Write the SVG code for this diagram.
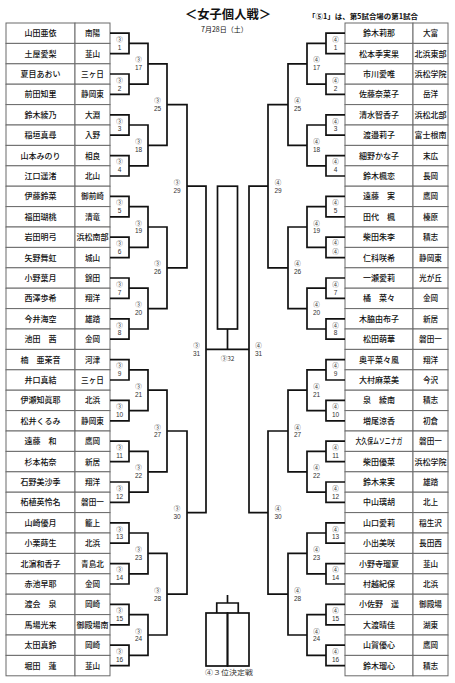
<svg xmlns="http://www.w3.org/2000/svg" width="455" height="683" viewBox="0 0 455 683">
<style>
.cell{fill:#fff;stroke:#6a6a6a;stroke-width:1}
.nm{font-family:"Noto Sans CJK JP","Noto Sans",sans-serif;font-size:8px;font-weight:500;fill:#111;text-anchor:middle}
.sc{font-family:"Noto Sans CJK JP","Noto Sans",sans-serif;font-size:7.6px;font-weight:500;fill:#111;text-anchor:middle}
.br{fill:none;stroke:#111;stroke-width:1.7}
.lb{font-family:"Noto Sans CJK JP","Noto Sans",sans-serif;font-size:6.5px;fill:#333;text-anchor:middle}
.n{font-family:"Liberation Sans","Noto Sans",sans-serif}
.hd{font-family:"Noto Sans CJK JP","Noto Sans",sans-serif;fill:#111}
</style>
<rect width="455" height="683" fill="#fff"/>
<g id="header">
<text class="hd" x="228" y="19" font-size="12.5" font-weight="bold" text-anchor="middle" textLength="86" lengthAdjust="spacingAndGlyphs">＜女子個人戦＞</text>
<text class="hd" x="201" y="32" font-size="7">7月28日（土）</text>
<text class="hd" x="308" y="19" font-size="7.4" font-weight="bold" textLength="110" lengthAdjust="spacingAndGlyphs">「⑤1」は、第5試合場の第1試合</text>
</g>
<g id="left-players">
<g id="L01"><rect class="cell" x="6" y="23" width="69" height="20.4"/><rect class="cell" x="75" y="23" width="35" height="20.4"/><text class="nm" x="40.5" y="36.2">山田亜依</text><text class="sc" x="92.5" y="36.2">南陽</text></g>
<g id="L02"><rect class="cell" x="6" y="43.4" width="69" height="20.4"/><rect class="cell" x="75" y="43.4" width="35" height="20.4"/><text class="nm" x="40.5" y="56.6">土屋愛梨</text><text class="sc" x="92.5" y="56.6">韮山</text></g>
<g id="L03"><rect class="cell" x="6" y="63.8" width="69" height="20.4"/><rect class="cell" x="75" y="63.8" width="35" height="20.4"/><text class="nm" x="40.5" y="77">夏目あおい</text><text class="sc" x="92.5" y="77">三ヶ日</text></g>
<g id="L04"><rect class="cell" x="6" y="84.2" width="69" height="20.4"/><rect class="cell" x="75" y="84.2" width="35" height="20.4"/><text class="nm" x="40.5" y="97.4">前田知里</text><text class="sc" x="92.5" y="97.4">静岡東</text></g>
<g id="L05"><rect class="cell" x="6" y="104.6" width="69" height="20.4"/><rect class="cell" x="75" y="104.6" width="35" height="20.4"/><text class="nm" x="40.5" y="117.8">鈴木綾乃</text><text class="sc" x="92.5" y="117.8">大淵</text></g>
<g id="L06"><rect class="cell" x="6" y="125" width="69" height="20.4"/><rect class="cell" x="75" y="125" width="35" height="20.4"/><text class="nm" x="40.5" y="138.2">稲垣真尋</text><text class="sc" x="92.5" y="138.2">入野</text></g>
<g id="L07"><rect class="cell" x="6" y="145.4" width="69" height="20.4"/><rect class="cell" x="75" y="145.4" width="35" height="20.4"/><text class="nm" x="40.5" y="158.6">山本みのり</text><text class="sc" x="92.5" y="158.6">相良</text></g>
<g id="L08"><rect class="cell" x="6" y="165.8" width="69" height="20.4"/><rect class="cell" x="75" y="165.8" width="35" height="20.4"/><text class="nm" x="40.5" y="179">江口遥渚</text><text class="sc" x="92.5" y="179">北山</text></g>
<g id="L09"><rect class="cell" x="6" y="186.2" width="69" height="20.4"/><rect class="cell" x="75" y="186.2" width="35" height="20.4"/><text class="nm" x="40.5" y="199.4">伊藤鈴菜</text><text class="sc" x="92.5" y="199.4">御前崎</text></g>
<g id="L10"><rect class="cell" x="6" y="206.6" width="69" height="20.4"/><rect class="cell" x="75" y="206.6" width="35" height="20.4"/><text class="nm" x="40.5" y="219.8">福田瑚桃</text><text class="sc" x="92.5" y="219.8">清竜</text></g>
<g id="L11"><rect class="cell" x="6" y="227" width="69" height="20.4"/><rect class="cell" x="75" y="227" width="35" height="20.4"/><text class="nm" x="40.5" y="240.2">岩田明弓</text><text class="sc" x="92.5" y="240.2" textLength="32" lengthAdjust="spacingAndGlyphs">浜松南部</text></g>
<g id="L12"><rect class="cell" x="6" y="247.4" width="69" height="20.4"/><rect class="cell" x="75" y="247.4" width="35" height="20.4"/><text class="nm" x="40.5" y="260.6">矢野舞虹</text><text class="sc" x="92.5" y="260.6">城山</text></g>
<g id="L13"><rect class="cell" x="6" y="267.8" width="69" height="20.4"/><rect class="cell" x="75" y="267.8" width="35" height="20.4"/><text class="nm" x="40.5" y="281">小野葉月</text><text class="sc" x="92.5" y="281">錦田</text></g>
<g id="L14"><rect class="cell" x="6" y="288.2" width="69" height="20.4"/><rect class="cell" x="75" y="288.2" width="35" height="20.4"/><text class="nm" x="40.5" y="301.4">西澤歩希</text><text class="sc" x="92.5" y="301.4">翔洋</text></g>
<g id="L15"><rect class="cell" x="6" y="308.6" width="69" height="20.4"/><rect class="cell" x="75" y="308.6" width="35" height="20.4"/><text class="nm" x="40.5" y="321.8">今井海空</text><text class="sc" x="92.5" y="321.8">雄踏</text></g>
<g id="L16"><rect class="cell" x="6" y="329" width="69" height="20.4"/><rect class="cell" x="75" y="329" width="35" height="20.4"/><text class="nm" x="40.5" y="342.2">池田　茜</text><text class="sc" x="92.5" y="342.2">金岡</text></g>
<g id="L17"><rect class="cell" x="6" y="349.4" width="69" height="20.4"/><rect class="cell" x="75" y="349.4" width="35" height="20.4"/><text class="nm" x="40.5" y="362.6">楠　亜茉音</text><text class="sc" x="92.5" y="362.6">河津</text></g>
<g id="L18"><rect class="cell" x="6" y="369.8" width="69" height="20.4"/><rect class="cell" x="75" y="369.8" width="35" height="20.4"/><text class="nm" x="40.5" y="383">井口真結</text><text class="sc" x="92.5" y="383">三ヶ日</text></g>
<g id="L19"><rect class="cell" x="6" y="390.2" width="69" height="20.4"/><rect class="cell" x="75" y="390.2" width="35" height="20.4"/><text class="nm" x="40.5" y="403.4">伊瀬知眞耶</text><text class="sc" x="92.5" y="403.4">北浜</text></g>
<g id="L20"><rect class="cell" x="6" y="410.6" width="69" height="20.4"/><rect class="cell" x="75" y="410.6" width="35" height="20.4"/><text class="nm" x="40.5" y="423.8">松井くるみ</text><text class="sc" x="92.5" y="423.8">静岡東</text></g>
<g id="L21"><rect class="cell" x="6" y="431" width="69" height="20.4"/><rect class="cell" x="75" y="431" width="35" height="20.4"/><text class="nm" x="40.5" y="444.2">遠藤　和</text><text class="sc" x="92.5" y="444.2">鷹岡</text></g>
<g id="L22"><rect class="cell" x="6" y="451.4" width="69" height="20.4"/><rect class="cell" x="75" y="451.4" width="35" height="20.4"/><text class="nm" x="40.5" y="464.6">杉本祐奈</text><text class="sc" x="92.5" y="464.6">新居</text></g>
<g id="L23"><rect class="cell" x="6" y="471.8" width="69" height="20.4"/><rect class="cell" x="75" y="471.8" width="35" height="20.4"/><text class="nm" x="40.5" y="485">石野美沙季</text><text class="sc" x="92.5" y="485">翔洋</text></g>
<g id="L24"><rect class="cell" x="6" y="492.2" width="69" height="20.4"/><rect class="cell" x="75" y="492.2" width="35" height="20.4"/><text class="nm" x="40.5" y="505.4">柘植英怜名</text><text class="sc" x="92.5" y="505.4">磐田一</text></g>
<g id="L25"><rect class="cell" x="6" y="512.6" width="69" height="20.4"/><rect class="cell" x="75" y="512.6" width="35" height="20.4"/><text class="nm" x="40.5" y="525.8">山崎優月</text><text class="sc" x="92.5" y="525.8">籠上</text></g>
<g id="L26"><rect class="cell" x="6" y="533" width="69" height="20.4"/><rect class="cell" x="75" y="533" width="35" height="20.4"/><text class="nm" x="40.5" y="546.2">小栗蒔生</text><text class="sc" x="92.5" y="546.2">北浜</text></g>
<g id="L27"><rect class="cell" x="6" y="553.4" width="69" height="20.4"/><rect class="cell" x="75" y="553.4" width="35" height="20.4"/><text class="nm" x="40.5" y="566.6">北濵和香子</text><text class="sc" x="92.5" y="566.6">青島北</text></g>
<g id="L28"><rect class="cell" x="6" y="573.8" width="69" height="20.4"/><rect class="cell" x="75" y="573.8" width="35" height="20.4"/><text class="nm" x="40.5" y="587">赤池早耶</text><text class="sc" x="92.5" y="587">金岡</text></g>
<g id="L29"><rect class="cell" x="6" y="594.2" width="69" height="20.4"/><rect class="cell" x="75" y="594.2" width="35" height="20.4"/><text class="nm" x="40.5" y="607.4">渡会　泉</text><text class="sc" x="92.5" y="607.4">岡崎</text></g>
<g id="L30"><rect class="cell" x="6" y="614.6" width="69" height="20.4"/><rect class="cell" x="75" y="614.6" width="35" height="20.4"/><text class="nm" x="40.5" y="627.8">馬場光来</text><text class="sc" x="92.5" y="627.8" textLength="32" lengthAdjust="spacingAndGlyphs">御殿場南</text></g>
<g id="L31"><rect class="cell" x="6" y="635" width="69" height="20.4"/><rect class="cell" x="75" y="635" width="35" height="20.4"/><text class="nm" x="40.5" y="648.2">太田真鈴</text><text class="sc" x="92.5" y="648.2">岡崎</text></g>
<g id="L32"><rect class="cell" x="6" y="655.4" width="69" height="20.4"/><rect class="cell" x="75" y="655.4" width="35" height="20.4"/><text class="nm" x="40.5" y="668.6">堀田　蓮</text><text class="sc" x="92.5" y="668.6">韮山</text></g>
</g>
<g id="right-players">
<g id="R01"><rect class="cell" x="345" y="23" width="68" height="20.4"/><rect class="cell" x="413" y="23" width="35" height="20.4"/><text class="nm" x="379" y="36.2">鈴木莉那</text><text class="sc" x="430.5" y="36.2">大富</text></g>
<g id="R02"><rect class="cell" x="345" y="43.4" width="68" height="20.4"/><rect class="cell" x="413" y="43.4" width="35" height="20.4"/><text class="nm" x="379" y="56.6">松本季実果</text><text class="sc" x="430.5" y="56.6" textLength="32" lengthAdjust="spacingAndGlyphs">北浜東部</text></g>
<g id="R03"><rect class="cell" x="345" y="63.8" width="68" height="20.4"/><rect class="cell" x="413" y="63.8" width="35" height="20.4"/><text class="nm" x="379" y="77">市川愛唯</text><text class="sc" x="430.5" y="77" textLength="32" lengthAdjust="spacingAndGlyphs">浜松学院</text></g>
<g id="R04"><rect class="cell" x="345" y="84.2" width="68" height="20.4"/><rect class="cell" x="413" y="84.2" width="35" height="20.4"/><text class="nm" x="379" y="97.4">佐藤奈菜子</text><text class="sc" x="430.5" y="97.4">岳洋</text></g>
<g id="R05"><rect class="cell" x="345" y="104.6" width="68" height="20.4"/><rect class="cell" x="413" y="104.6" width="35" height="20.4"/><text class="nm" x="379" y="117.8">清水智香子</text><text class="sc" x="430.5" y="117.8" textLength="32" lengthAdjust="spacingAndGlyphs">浜松北部</text></g>
<g id="R06"><rect class="cell" x="345" y="125" width="68" height="20.4"/><rect class="cell" x="413" y="125" width="35" height="20.4"/><text class="nm" x="379" y="138.2">渡邉莉子</text><text class="sc" x="430.5" y="138.2" textLength="32" lengthAdjust="spacingAndGlyphs">富士根南</text></g>
<g id="R07"><rect class="cell" x="345" y="145.4" width="68" height="20.4"/><rect class="cell" x="413" y="145.4" width="35" height="20.4"/><text class="nm" x="379" y="158.6">細野かな子</text><text class="sc" x="430.5" y="158.6">末広</text></g>
<g id="R08"><rect class="cell" x="345" y="165.8" width="68" height="20.4"/><rect class="cell" x="413" y="165.8" width="35" height="20.4"/><text class="nm" x="379" y="179">鈴木楓恋</text><text class="sc" x="430.5" y="179">長岡</text></g>
<g id="R09"><rect class="cell" x="345" y="186.2" width="68" height="20.4"/><rect class="cell" x="413" y="186.2" width="35" height="20.4"/><text class="nm" x="379" y="199.4">遠藤　実</text><text class="sc" x="430.5" y="199.4">鷹岡</text></g>
<g id="R10"><rect class="cell" x="345" y="206.6" width="68" height="20.4"/><rect class="cell" x="413" y="206.6" width="35" height="20.4"/><text class="nm" x="379" y="219.8">田代　楓</text><text class="sc" x="430.5" y="219.8">榛原</text></g>
<g id="R11"><rect class="cell" x="345" y="227" width="68" height="20.4"/><rect class="cell" x="413" y="227" width="35" height="20.4"/><text class="nm" x="379" y="240.2">柴田朱李</text><text class="sc" x="430.5" y="240.2">積志</text></g>
<g id="R12"><rect class="cell" x="345" y="247.4" width="68" height="20.4"/><rect class="cell" x="413" y="247.4" width="35" height="20.4"/><text class="nm" x="379" y="260.6">仁科咲希</text><text class="sc" x="430.5" y="260.6">静岡東</text></g>
<g id="R13"><rect class="cell" x="345" y="267.8" width="68" height="20.4"/><rect class="cell" x="413" y="267.8" width="35" height="20.4"/><text class="nm" x="379" y="281">一瀬愛莉</text><text class="sc" x="430.5" y="281">光が丘</text></g>
<g id="R14"><rect class="cell" x="345" y="288.2" width="68" height="20.4"/><rect class="cell" x="413" y="288.2" width="35" height="20.4"/><text class="nm" x="379" y="301.4">橘　菜々</text><text class="sc" x="430.5" y="301.4">金岡</text></g>
<g id="R15"><rect class="cell" x="345" y="308.6" width="68" height="20.4"/><rect class="cell" x="413" y="308.6" width="35" height="20.4"/><text class="nm" x="379" y="321.8">木脇由布子</text><text class="sc" x="430.5" y="321.8">新居</text></g>
<g id="R16"><rect class="cell" x="345" y="329" width="68" height="20.4"/><rect class="cell" x="413" y="329" width="35" height="20.4"/><text class="nm" x="379" y="342.2">松田萌華</text><text class="sc" x="430.5" y="342.2">磐田一</text></g>
<g id="R17"><rect class="cell" x="345" y="349.4" width="68" height="20.4"/><rect class="cell" x="413" y="349.4" width="35" height="20.4"/><text class="nm" x="379" y="362.6">奥平菜々風</text><text class="sc" x="430.5" y="362.6">翔洋</text></g>
<g id="R18"><rect class="cell" x="345" y="369.8" width="68" height="20.4"/><rect class="cell" x="413" y="369.8" width="35" height="20.4"/><text class="nm" x="379" y="383">大村麻菜美</text><text class="sc" x="430.5" y="383">今沢</text></g>
<g id="R19"><rect class="cell" x="345" y="390.2" width="68" height="20.4"/><rect class="cell" x="413" y="390.2" width="35" height="20.4"/><text class="nm" x="379" y="403.4">泉　綾南</text><text class="sc" x="430.5" y="403.4">積志</text></g>
<g id="R20"><rect class="cell" x="345" y="410.6" width="68" height="20.4"/><rect class="cell" x="413" y="410.6" width="35" height="20.4"/><text class="nm" x="379" y="423.8">増尾涼香</text><text class="sc" x="430.5" y="423.8">初倉</text></g>
<g id="R21"><rect class="cell" x="345" y="431" width="68" height="20.4"/><rect class="cell" x="413" y="431" width="35" height="20.4"/><text class="nm" x="379" y="444.2" textLength="47" lengthAdjust="spacingAndGlyphs">大久保ムソニナガ</text><text class="sc" x="430.5" y="444.2">磐田一</text></g>
<g id="R22"><rect class="cell" x="345" y="451.4" width="68" height="20.4"/><rect class="cell" x="413" y="451.4" width="35" height="20.4"/><text class="nm" x="379" y="464.6">柴田優菜</text><text class="sc" x="430.5" y="464.6" textLength="32" lengthAdjust="spacingAndGlyphs">浜松学院</text></g>
<g id="R23"><rect class="cell" x="345" y="471.8" width="68" height="20.4"/><rect class="cell" x="413" y="471.8" width="35" height="20.4"/><text class="nm" x="379" y="485">鈴木来実</text><text class="sc" x="430.5" y="485">雄踏</text></g>
<g id="R24"><rect class="cell" x="345" y="492.2" width="68" height="20.4"/><rect class="cell" x="413" y="492.2" width="35" height="20.4"/><text class="nm" x="379" y="505.4">中山璃胡</text><text class="sc" x="430.5" y="505.4">北上</text></g>
<g id="R25"><rect class="cell" x="345" y="512.6" width="68" height="20.4"/><rect class="cell" x="413" y="512.6" width="35" height="20.4"/><text class="nm" x="379" y="525.8">山口愛莉</text><text class="sc" x="430.5" y="525.8">稲生沢</text></g>
<g id="R26"><rect class="cell" x="345" y="533" width="68" height="20.4"/><rect class="cell" x="413" y="533" width="35" height="20.4"/><text class="nm" x="379" y="546.2">小出美咲</text><text class="sc" x="430.5" y="546.2">長田西</text></g>
<g id="R27"><rect class="cell" x="345" y="553.4" width="68" height="20.4"/><rect class="cell" x="413" y="553.4" width="35" height="20.4"/><text class="nm" x="379" y="566.6">小野寺瑠夏</text><text class="sc" x="430.5" y="566.6">韮山</text></g>
<g id="R28"><rect class="cell" x="345" y="573.8" width="68" height="20.4"/><rect class="cell" x="413" y="573.8" width="35" height="20.4"/><text class="nm" x="379" y="587">村越紀保</text><text class="sc" x="430.5" y="587">北浜</text></g>
<g id="R29"><rect class="cell" x="345" y="594.2" width="68" height="20.4"/><rect class="cell" x="413" y="594.2" width="35" height="20.4"/><text class="nm" x="379" y="607.4">小佐野　遥</text><text class="sc" x="430.5" y="607.4">御殿場</text></g>
<g id="R30"><rect class="cell" x="345" y="614.6" width="68" height="20.4"/><rect class="cell" x="413" y="614.6" width="35" height="20.4"/><text class="nm" x="379" y="627.8">大渡晴佳</text><text class="sc" x="430.5" y="627.8">湖東</text></g>
<g id="R31"><rect class="cell" x="345" y="635" width="68" height="20.4"/><rect class="cell" x="413" y="635" width="35" height="20.4"/><text class="nm" x="379" y="648.2">山賀優心</text><text class="sc" x="430.5" y="648.2">鷹岡</text></g>
<g id="R32"><rect class="cell" x="345" y="655.4" width="68" height="20.4"/><rect class="cell" x="413" y="655.4" width="35" height="20.4"/><text class="nm" x="379" y="668.6">鈴木瑠心</text><text class="sc" x="430.5" y="668.6">積志</text></g>
</g>
<g id="connectors">
<path class="br" d="M110,33.2H129V53.6H110M110,74H129V94.4H110M110,114.8H129V135.2H110M110,155.6H129V176H110M110,196.4H129V216.8H110M110,237.2H129V257.6H110M110,278H129V298.4H110M110,318.8H129V339.2H110M110,359.6H129V380H110M110,400.4H129V420.8H110M110,441.2H129V461.6H110M110,482H129V502.4H110M110,522.8H129V543.2H110M110,563.6H129V584H110M110,604.4H129V624.8H110M110,645.2H129V665.6H110"/>
<path class="br" d="M129,43.4H148V84.2H129M129,125H148V165.8H129M129,206.6H148V247.4H129M129,288.2H148V329H129M129,369.8H148V410.6H129M129,451.4H148V492.2H129M129,533H148V573.8H129M129,614.6H148V655.4H129"/>
<path class="br" d="M148,63.8H167V145.4H148M148,227H167V308.6H148M148,390.2H167V471.8H148M148,553.4H167V635H148"/>
<path class="br" d="M167,104.6H187V267.8H167M167,431H187V594.2H167"/>
<path class="br" d="M187,186.2H206V512.6H187"/>
<path class="br" d="M345,33.2H326V53.6H345M345,74H326V94.4H345M345,114.8H326V135.2H345M345,155.6H326V176H345M345,196.4H326V216.8H345M345,237.2H326V257.6H345M345,278H326V298.4H345M345,318.8H326V339.2H345M345,359.6H326V380H345M345,400.4H326V420.8H345M345,441.2H326V461.6H345M345,482H326V502.4H345M345,522.8H326V543.2H345M345,563.6H326V584H345M345,604.4H326V624.8H345M345,645.2H326V665.6H345"/>
<path class="br" d="M326,43.4H307V84.2H326M326,125H307V165.8H326M326,206.6H307V247.4H326M326,288.2H307V329H326M326,369.8H307V410.6H326M326,451.4H307V492.2H326M326,533H307V573.8H326M326,614.6H307V655.4H326"/>
<path class="br" d="M307,63.8H288V145.4H307M307,227H288V308.6H307M307,390.2H288V471.8H307M307,553.4H288V635H307"/>
<path class="br" d="M288,104.6H268V267.8H288M288,431H268V594.2H288"/>
<path class="br" d="M268,186.2H249V512.6H268"/>
<path class="br" d="M206,349.4H249M227.5,349.4V329"/>
<rect class="br" x="217.5" y="186.2" width="20" height="142.8"/>
<rect class="br" x="206" y="613" width="21.5" height="53"/>
<rect class="br" x="227.5" y="613" width="21.5" height="53"/>
<path class="br" d="M216.75,613V603H238.25V613M227.5,603V595"/>
</g>
<g id="labels-left">
<text class="lb" x="119.5" y="41.9">③<tspan class="n" x="119.5" y="49.8">1</tspan></text>
<text class="lb" x="119.5" y="82.7">③<tspan class="n" x="119.5" y="90.6">2</tspan></text>
<text class="lb" x="119.5" y="123.5">③<tspan class="n" x="119.5" y="131.4">3</tspan></text>
<text class="lb" x="119.5" y="164.3">③<tspan class="n" x="119.5" y="172.2">4</tspan></text>
<text class="lb" x="119.5" y="205.1">③<tspan class="n" x="119.5" y="213">5</tspan></text>
<text class="lb" x="119.5" y="245.9">③<tspan class="n" x="119.5" y="253.8">6</tspan></text>
<text class="lb" x="119.5" y="286.7">③<tspan class="n" x="119.5" y="294.6">7</tspan></text>
<text class="lb" x="119.5" y="327.5">③<tspan class="n" x="119.5" y="335.4">8</tspan></text>
<text class="lb" x="119.5" y="368.3">③<tspan class="n" x="119.5" y="376.2">9</tspan></text>
<text class="lb" x="119.5" y="409.1">③<tspan class="n" x="119.5" y="417">10</tspan></text>
<text class="lb" x="119.5" y="449.9">③<tspan class="n" x="119.5" y="457.8">11</tspan></text>
<text class="lb" x="119.5" y="490.7">③<tspan class="n" x="119.5" y="498.6">12</tspan></text>
<text class="lb" x="119.5" y="531.5">③<tspan class="n" x="119.5" y="539.4">13</tspan></text>
<text class="lb" x="119.5" y="572.3">③<tspan class="n" x="119.5" y="580.2">14</tspan></text>
<text class="lb" x="119.5" y="613.1">③<tspan class="n" x="119.5" y="621">15</tspan></text>
<text class="lb" x="119.5" y="653.9">③<tspan class="n" x="119.5" y="661.8">16</tspan></text>
<text class="lb" x="138.5" y="62.3">③<tspan class="n" x="138.5" y="70.2">17</tspan></text>
<text class="lb" x="138.5" y="143.9">③<tspan class="n" x="138.5" y="151.8">18</tspan></text>
<text class="lb" x="138.5" y="225.5">③<tspan class="n" x="138.5" y="233.4">19</tspan></text>
<text class="lb" x="138.5" y="307.1">③<tspan class="n" x="138.5" y="315">20</tspan></text>
<text class="lb" x="138.5" y="388.7">③<tspan class="n" x="138.5" y="396.6">21</tspan></text>
<text class="lb" x="138.5" y="470.3">③<tspan class="n" x="138.5" y="478.2">22</tspan></text>
<text class="lb" x="138.5" y="551.9">③<tspan class="n" x="138.5" y="559.8">23</tspan></text>
<text class="lb" x="138.5" y="633.5">③<tspan class="n" x="138.5" y="641.4">24</tspan></text>
<text class="lb" x="157.5" y="103.1">③<tspan class="n" x="157.5" y="111">25</tspan></text>
<text class="lb" x="157.5" y="266.3">③<tspan class="n" x="157.5" y="274.2">26</tspan></text>
<text class="lb" x="157.5" y="429.5">③<tspan class="n" x="157.5" y="437.4">27</tspan></text>
<text class="lb" x="157.5" y="592.7">③<tspan class="n" x="157.5" y="600.6">28</tspan></text>
<text class="lb" x="177" y="184.7">③<tspan class="n" x="177" y="192.6">29</tspan></text>
<text class="lb" x="177" y="511.1">③<tspan class="n" x="177" y="519">30</tspan></text>
<text class="lb" x="196.5" y="347.9">③<tspan class="n" x="196.5" y="355.8">31</tspan></text>
</g>
<g id="labels-right">
<text class="lb" x="335.5" y="41.9">④<tspan class="n" x="335.5" y="49.8">1</tspan></text>
<text class="lb" x="335.5" y="82.7">④<tspan class="n" x="335.5" y="90.6">2</tspan></text>
<text class="lb" x="335.5" y="123.5">④<tspan class="n" x="335.5" y="131.4">3</tspan></text>
<text class="lb" x="335.5" y="164.3">④<tspan class="n" x="335.5" y="172.2">4</tspan></text>
<text class="lb" x="335.5" y="205.1">④<tspan class="n" x="335.5" y="213">5</tspan></text>
<text class="lb" x="335.5" y="245.1">④<tspan x="335.5" y="254.4">④</tspan></text>
<text class="lb" x="335.5" y="286.7">④<tspan class="n" x="335.5" y="294.6">7</tspan></text>
<text class="lb" x="335.5" y="327.5">④<tspan class="n" x="335.5" y="335.4">8</tspan></text>
<text class="lb" x="335.5" y="368.3">④<tspan class="n" x="335.5" y="376.2">9</tspan></text>
<text class="lb" x="335.5" y="409.1">④<tspan class="n" x="335.5" y="417">10</tspan></text>
<text class="lb" x="335.5" y="449.9">④<tspan class="n" x="335.5" y="457.8">11</tspan></text>
<text class="lb" x="335.5" y="490.7">④<tspan class="n" x="335.5" y="498.6">12</tspan></text>
<text class="lb" x="335.5" y="531.5">④<tspan class="n" x="335.5" y="539.4">13</tspan></text>
<text class="lb" x="335.5" y="572.3">④<tspan class="n" x="335.5" y="580.2">14</tspan></text>
<text class="lb" x="335.5" y="613.1">④<tspan class="n" x="335.5" y="621">15</tspan></text>
<text class="lb" x="335.5" y="653.9">④<tspan class="n" x="335.5" y="661.8">16</tspan></text>
<text class="lb" x="316.5" y="62.3">④<tspan class="n" x="316.5" y="70.2">17</tspan></text>
<text class="lb" x="316.5" y="143.9">④<tspan class="n" x="316.5" y="151.8">18</tspan></text>
<text class="lb" x="316.5" y="225.5">④<tspan class="n" x="316.5" y="233.4">19</tspan></text>
<text class="lb" x="316.5" y="307.1">④<tspan class="n" x="316.5" y="315">20</tspan></text>
<text class="lb" x="316.5" y="388.7">④<tspan class="n" x="316.5" y="396.6">21</tspan></text>
<text class="lb" x="316.5" y="470.3">④<tspan class="n" x="316.5" y="478.2">22</tspan></text>
<text class="lb" x="316.5" y="551.9">④<tspan class="n" x="316.5" y="559.8">23</tspan></text>
<text class="lb" x="316.5" y="633.5">④<tspan class="n" x="316.5" y="641.4">24</tspan></text>
<text class="lb" x="297.5" y="103.1">④<tspan class="n" x="297.5" y="111">25</tspan></text>
<text class="lb" x="297.5" y="266.3">④<tspan class="n" x="297.5" y="274.2">26</tspan></text>
<text class="lb" x="297.5" y="429.5">④<tspan class="n" x="297.5" y="437.4">27</tspan></text>
<text class="lb" x="297.5" y="592.7">④<tspan class="n" x="297.5" y="600.6">28</tspan></text>
<text class="lb" x="278" y="184.7">④<tspan class="n" x="278" y="192.6">29</tspan></text>
<text class="lb" x="278" y="511.1">④<tspan class="n" x="278" y="519">30</tspan></text>
<text class="lb" x="258.5" y="347.9">④<tspan class="n" x="258.5" y="355.8">31</tspan></text>
</g>
<g id="labels-center">
<text class="lb" x="227.5" y="361" font-size="7">③32</text>
<text class="lb" x="229" y="675" font-size="7" textLength="48" lengthAdjust="spacingAndGlyphs">④３位決定戦</text>
</g>
</svg>
